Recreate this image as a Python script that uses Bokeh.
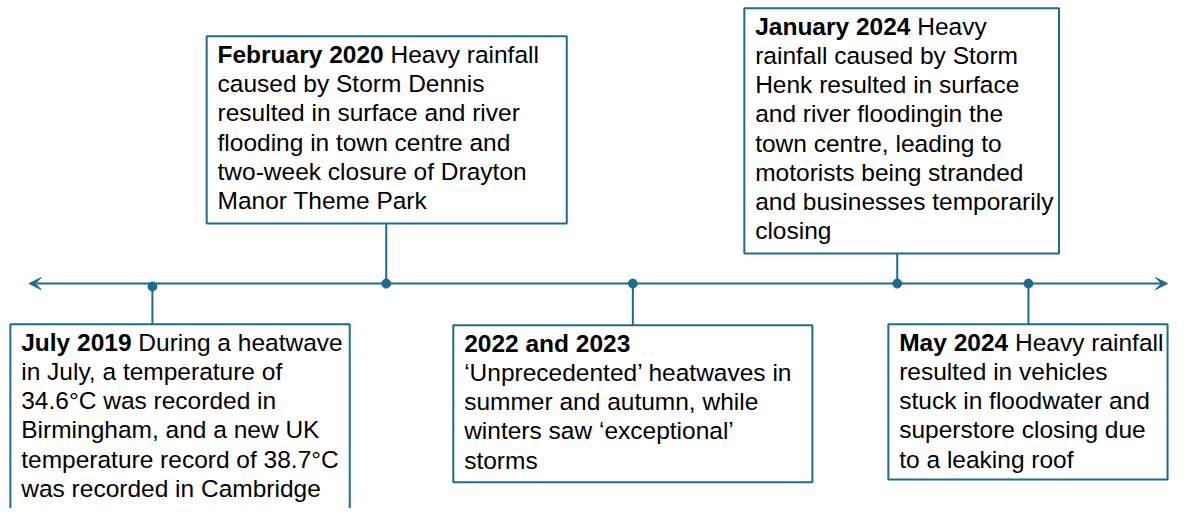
from bokeh.plotting import figure
from bokeh.models import Range1d, Arrow, VeeHead
from bokeh.core.properties import value
from bokeh.embed import file_html
from bokeh.resources import INLINE

# ---- data -------------------------------------------------------------
events = ["July 2019", "February 2020", "2022 and 2023", "January 2024", "May 2024"]
first_line_rest = ["During a heatwave", "Heavy rainfall", "", "Heavy", "Heavy rainfall"]
body_lines = [
    ["in July, a temperature of",
     "34.6\u00b0C was recorded in",
     "Birmingham, and a new UK",
     "temperature record of 38.7\u00b0C",
     "was recorded in Cambridge"],
    ["caused by Storm Dennis",
     "resulted in surface and river",
     "flooding in town centre and",
     "two-week closure of Drayton",
     "Manor Theme Park"],
    ["\u2018Unprecedented\u2019 heatwaves in",
     "summer and autumn, while",
     "winters saw \u2018exceptional\u2019",
     "storms"],
    ["rainfall caused by Storm",
     "Henk resulted in surface",
     "and river floodingin the",
     "town centre, leading to",
     "motorists being stranded",
     "and businesses temporarily",
     "closing"],
    ["resulted in vehicles",
     "stuck in floodwater and",
     "superstore closing due",
     "to a leaking roof"],
]

# ---- layout (reference pixel space) ----------------------------------
event_x = [154, 391, 641, 909, 1042]
dot_y = [295, 292, 292, 292, 292]
line_y = 292
box_left = [10, 209, 459, 754, 900]
box_top = [334, 37, 335, 8, 334]
box_right = [354, 574, 823, 1073, 1183]
box_bottom = [540, 230, 497, 261, 494]
above = [False, True, False, True, False]

W, H = 1170, 508
REF_W, REF_H = 1186, 524
XS = W / REF_W
FONT_PX = 24.5
LINE_H = 30
FIRST_OFF = 19
TEAL = "#1f6a8d"
FONT = "Liberation Sans"

# Arial Bold advance widths (1/1000 em) for header characters
BOLD_W = {" ": 278, "a": 556, "b": 611, "d": 611, "e": 556, "l": 278, "n": 611,
          "r": 389, "u": 611, "y": 556, "F": 611, "J": 556, "M": 833}
for d in "0123456789":
    BOLD_W[d] = 556


def bold_width(s):
    return sum(BOLD_W.get(c, 556) for c in s) / 1000 * FONT_PX / XS


p = figure(width=W, height=H, x_range=Range1d(0, REF_W), y_range=Range1d(REF_H, 0),
           toolbar_location=None, output_backend="svg",
           x_axis_location=None, y_axis_location=None, min_border=0)
p.grid.visible = False
p.outline_line_color = None
p.background_fill_color = "white"

# timeline
p.add_layout(Arrow(x_start=29, y_start=line_y, x_end=1183, y_end=line_y,
                   line_color=TEAL, line_width=2,
                   start=VeeHead(size=12, fill_color=TEAL, line_color=TEAL),
                   end=VeeHead(size=12, fill_color=TEAL, line_color=TEAL)))

# connectors
conn_end = [box_bottom[i] if above[i] else box_top[i] for i in range(len(events))]
p.segment(x0=event_x, y0=dot_y, x1=event_x, y1=conn_end, line_color=TEAL, line_width=2)
p.scatter(x=event_x, y=dot_y, size=9, fill_color=TEAL, line_color=TEAL)

# boxes
p.quad(left=box_left, right=box_right, top=box_top, bottom=box_bottom,
       fill_color="white", line_color=TEAL, line_width=2)

# texts
bx, by, bt = [], [], []
rx, ry, rt = [], [], []
for i, ev in enumerate(events):
    tx = box_left[i] + 11
    ty = box_top[i] + FIRST_OFF
    bx.append(tx); by.append(ty); bt.append(ev)
    if first_line_rest[i]:
        rx.append(tx + bold_width(ev + " "))
        ry.append(ty)
        rt.append(first_line_rest[i])
    for j, ln in enumerate(body_lines[i]):
        rx.append(tx)
        ry.append(ty + LINE_H * (j + 1))
        rt.append(ln)

p.text(x=bx, y=by, text=bt, text_font=value(FONT), text_font_size=f"{FONT_PX}px",
       text_font_style="bold", text_baseline="alphabetic", text_color="black")
p.text(x=rx, y=ry, text=rt, text_font=value(FONT), text_font_size=f"{FONT_PX}px",
       text_baseline="alphabetic", text_color="black")

open("out.html", "w").write(file_html(p, INLINE))
